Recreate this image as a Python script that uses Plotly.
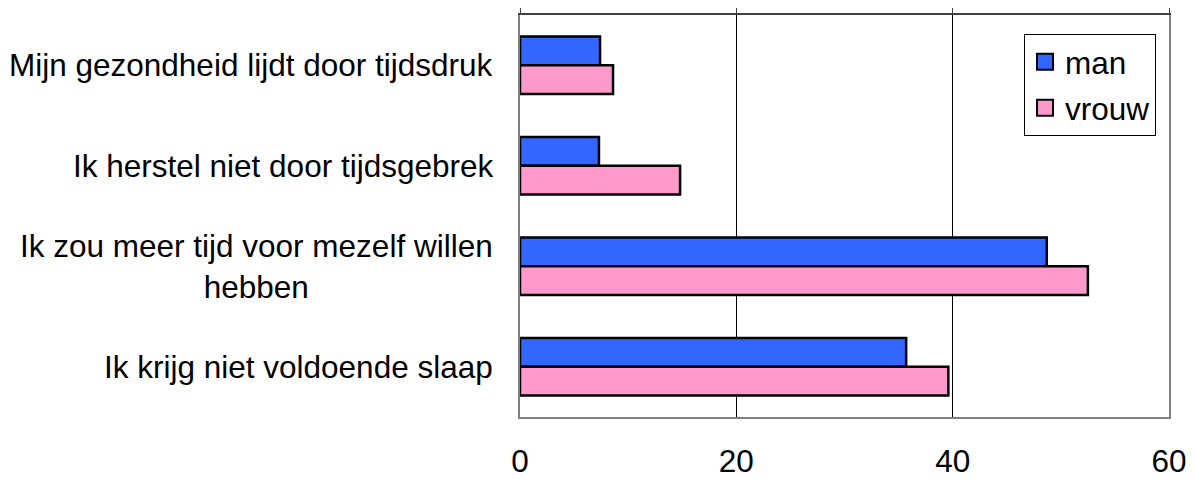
import plotly.graph_objects as go

categories = [
    "Mijn gezondheid lijdt door tijdsdruk",
    "Ik herstel niet door tijdsgebrek",
    "Ik zou meer tijd voor mezelf willen<br>hebben",
    "Ik krijg niet voldoende slaap",
]
man = [7.4, 7.3, 48.7, 35.7]
vrouw = [8.6, 14.8, 52.5, 39.6]
x_ticks = [0, 20, 40, 60]
series_names = ["man", "vrouw"]
series_colors = ["#3366FF", "#FF99CC"]

FONT = "Liberation Sans, Arial, sans-serif"
FS = 31.5

fig = go.Figure()
for name, vals, col in zip(series_names, [man, vrouw], series_colors):
    fig.add_trace(go.Bar(
        y=categories, x=vals, name=name, orientation="h",
        marker=dict(color=col, line=dict(color="black", width=2.5)),
        showlegend=False,
    ))
# legend entries with larger square swatches
for i, (name, col) in enumerate(zip(series_names, series_colors)):
    fig.add_trace(go.Scatter(
        x=[None], y=[None], mode="markers", name=name,
        marker=dict(symbol="square", size=20, color=col,
                    line=dict(color="black", width=2)),
        legendgroup=f"g{i}", xaxis="x2",
    ))

annotations = []
for c in categories:
    annotations.append(dict(
        x=0, xref="paper", y=c, yref="y", text=c, showarrow=False,
        xanchor="right", yanchor="middle", align="center", xshift=-25,
        font=dict(family=FONT, size=FS, color="black"),
    ))

fig.update_layout(
    width=1196, height=479,
    margin=dict(l=512, r=35, t=7, b=70, autoexpand=False),
    paper_bgcolor="white", plot_bgcolor="white",
    barmode="group", bargap=0.43, bargroupgap=0,
    font=dict(family=FONT, size=FS, color="black"),
    showlegend=True,
    legend=dict(
        x=0.98, xanchor="right", y=0.953, yanchor="top",
        bordercolor="black", borderwidth=1, bgcolor="white",
        font=dict(family=FONT, size=FS, color="black"),
        tracegroupgap=2, traceorder="grouped", itemsizing="trace",
    ),
    xaxis=dict(
        range=[0, 60], tickvals=x_ticks, ticks="", showgrid=True,
        gridcolor="black", gridwidth=1, zeroline=False,
        showline=True, linecolor="#808080", linewidth=2,
        ticklabelstandoff=15, automargin=False,
        tickfont=dict(family=FONT, size=FS, color="black"),
    ),
    xaxis2=dict(
        range=[0, 60], overlaying="x", side="top", tickvals=x_ticks,
        ticks="outside", ticklen=9, tickcolor="#404040", tickwidth=1,
        showticklabels=False, showgrid=False, zeroline=False,
        showline=True, linecolor="#404040", linewidth=2, automargin=False,
    ),
    yaxis=dict(
        autorange="reversed", showticklabels=False, ticks="",
        showline=True, linecolor="#808080", linewidth=2, mirror=True,
        showgrid=False, zeroline=False, automargin=False,
    ),
    annotations=annotations,
)

fig.write_html("out.html")
